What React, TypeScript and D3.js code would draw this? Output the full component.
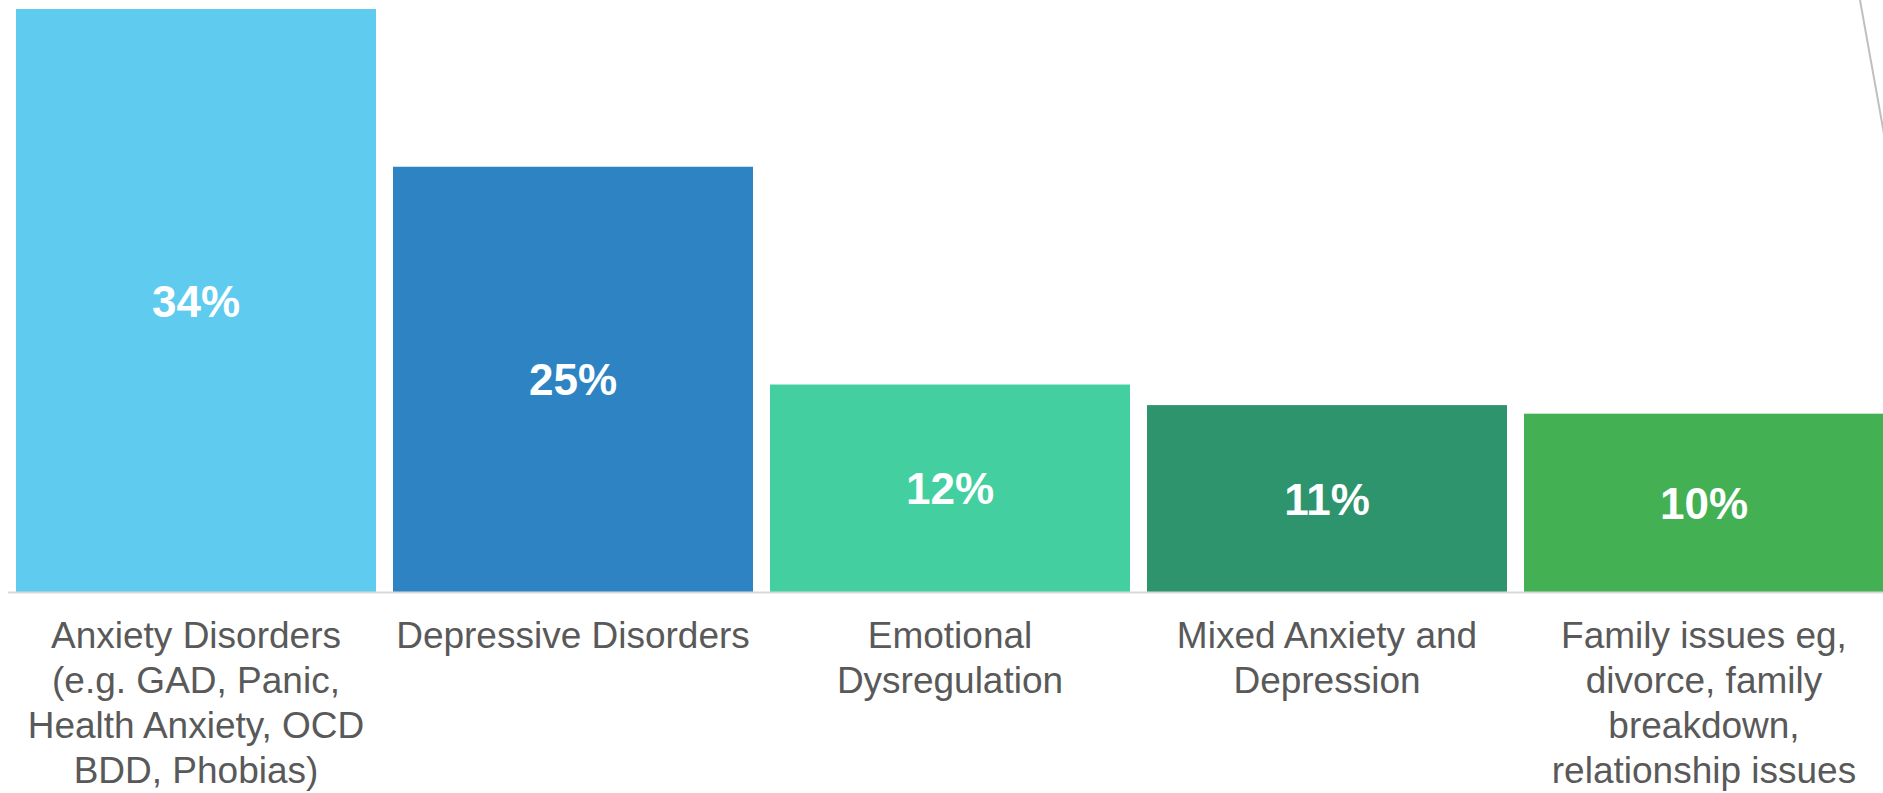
import React from "react";
import * as d3 from "d3";

const categories = [
  "Anxiety Disorders",
  "Depressive Disorders",
  "Emotional Dysregulation",
  "Mixed Anxiety and Depression",
  "Family issues",
];
const labelLines = [
  ["Anxiety Disorders", "(e.g. GAD, Panic,", "Health Anxiety, OCD", "BDD, Phobias)"],
  ["Depressive Disorders"],
  ["Emotional", "Dysregulation"],
  ["Mixed Anxiety and", "Depression"],
  ["Family issues eg,", "divorce, family", "breakdown,", "relationship issues"],
];
const values = [34, 24.8, 12.1, 10.9, 10.4];
const colors = ["#5ECBEF", "#2E84C3", "#44CFA1", "#2E946D", "#43B053"];

const W = 1883;
const H = 793;

export default function App() {
  const x = d3
    .scaleBand<string>()
    .domain(categories)
    .range([16, 1884])
    .paddingInner(17 / 377)
    .paddingOuter(0);
  const y = d3.scaleLinear().domain([0, 34]).range([592, 9]);
  const fmt = (v: number) => d3.format(".0f")(v) + "%";

  return (
    <svg
      width={W}
      height={H}
      style={{ position: "absolute", left: 0, top: 0, display: "block", background: "#fff" }}
    >
      <line x1={1860} y1={0} x2={1884} y2={134} stroke="#BFBFBF" strokeWidth={2} />
      {categories.map((c, i) => {
        const bx = x(c)!;
        const by = y(values[i]);
        const bh = y(0) - by;
        return (
          <g key={c}>
            <rect x={bx} y={by} width={x.bandwidth()} height={bh} fill={colors[i]} />
            <text
              x={bx + x.bandwidth() / 2}
              y={by + bh / 2 + 16}
              textAnchor="middle"
              fill="#fff"
              fontFamily="Liberation Sans, Arial, sans-serif"
              fontWeight="bold"
              fontSize={44}
            >
              {fmt(values[i])}
            </text>
            <text
              x={bx + x.bandwidth() / 2}
              y={648}
              textAnchor="middle"
              fill="#595959"
              fontFamily="Liberation Sans, Arial, sans-serif"
              fontSize={37}
            >
              {labelLines[i].map((l, j) => (
                <tspan key={j} x={bx + x.bandwidth() / 2} y={648 + j * 45}>
                  {l}
                </tspan>
              ))}
            </text>
          </g>
        );
      })}
      <line x1={8} y1={592.5} x2={W} y2={592.5} stroke="#D9D9D9" strokeWidth={2} />
    </svg>
  );
}
